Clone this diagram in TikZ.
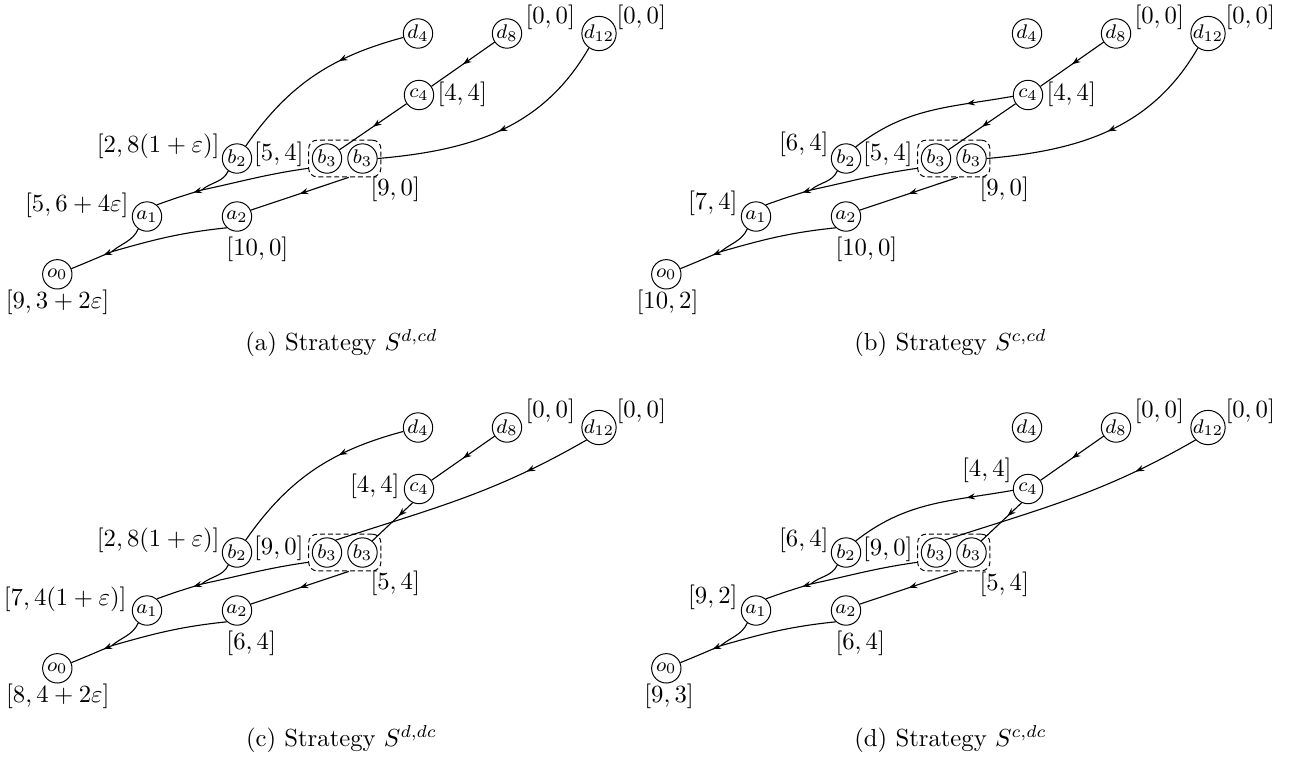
\documentclass[tikz,border=0pt]{standalone}
\usetikzlibrary{arrows.meta,decorations.markings,fit,calc}
\tikzset{
  gn/.style={draw, circle, minimum size=11.9pt, inner sep=0pt, font=\footnotesize},
  infoset/.style={draw, dash pattern=on 2pt off 1.2pt, rounded corners=3.5pt, inner sep=1.3pt},
  edge/.style={line width=0.45pt},
  midarr/.style={postaction={decorate,decoration={markings,mark=at position #1 with {\arrow{Stealth[length=3.4pt,width=2.5pt]}}}}},
  lab/.style={inner sep=0pt},
  captext/.style={anchor=base},
}
\newcommand\gtnodes[1]{%
 \node[gn] (#1o0) at (57.3,-274.3) {$o_0$};
 \node[gn] (#1a1) at (147,-216.5) {$a_1$};
 \node[gn] (#1a2) at (237,-216.5) {$a_2$};
 \node[gn] (#1b2) at (237,-158.5) {$b_2$};
 \node[gn] (#1b3l) at (327,-158.5) {$b_3$};
 \node[gn] (#1b3r) at (362.5,-158.5) {$b_3$};
 \node[gn] (#1c4) at (419,-95) {$c_4$};
 \node[gn] (#1d4) at (418,-33.5) {$d_4$};
 \node[gn] (#1d8) at (507,-33.5) {$d_8$};
 \node[gn] (#1d12) at (599,-33.5) {$d_{12}$};
 \node[infoset, fit=(#1b3l)(#1b3r)] (#1B3) {};
 \coordinate (#1J1) at (201.7,-190);
 \coordinate (#1J2) at (111.7,-251.7);
 \draw[edge] (#1b2.235) to[out=245,in=40] (#1J1);
 \draw[edge] (#1B3.195) to[out=188,in=12] (#1J1);
 \draw[edge,midarr=3.5pt] (#1J1) to[out=197,in=20] (#1a1.50);
 \draw[edge,midarr=0.5] (#1B3.282) -- (#1a2.25);
 \draw[edge] (#1a1.235) to[out=245,in=40] (#1J2);
 \draw[edge] (#1a2.228) to[out=186,in=16] (#1J2);
 \draw[edge,midarr=3.5pt] (#1J2) to[out=203,in=22] (#1o0.22);
 \draw[edge,midarr=0.5] (#1d8) -- (#1c4);
 \node[lab,anchor=west] (#1Ld8) at (525,-17.6) {$[0,0]$};
 \node[lab,anchor=west] (#1Ld12) at (616,-17.6) {$[0,0]$};
}
\begin{document}
\begin{tikzpicture}[x=0.405pt,y=0.405pt]
\useasboundingbox (0,0) rectangle (1289,-762);
% ---------- (a)
\begin{scope}
 \gtnodes{a}
 \draw[edge,midarr=0.35] (ad4.195) to[out=195,in=55] (ab2.55);
 \draw[edge,midarr=0.5] (ac4.215) -- (ab3l.35);
 \draw[edge,midarr=0.5] (ad12.235) to[out=240,in=5] (ab3r.east);
 \node[lab] (aLo0) at (57.5,-302.5) {$[9,3+2\varepsilon]$};
 \node[lab,anchor=east] (aLa1) at (129,-205.5) {$[5,6+4\varepsilon]$};
 \node[lab,anchor=west] (aLa2) at (226,-249) {$[10,0]$};
 \node[lab,anchor=east] (aLb2) at (220,-146.5) {$[2,8(1+\varepsilon)]$};
 \node[lab,anchor=east] (aLb3l) at (304,-154.8) {$[5,4]$};
 \node[lab,anchor=west] (aLb3r) at (370,-189.3) {$[9,0]$};
 \node[lab,anchor=west] (aLc4) at (437,-94.5) {$[4,4]$};
\end{scope}
% ---------- (b)
\begin{scope}[shift={(609,0)}]
 \gtnodes{b}
 \draw[edge,midarr=0.28] (bc4.185) to[out=190,in=38] (bb2.50);
 \draw[edge,midarr=0.5] (bc4.215) -- (bb3l.35);
 \draw[edge,midarr=0.5] (bd12.235) to[out=240,in=5] (bb3r.east);
 \node[lab] (bLo0) at (58.5,-302.5) {$[10,2]$};
 \node[lab,anchor=east] (bLa1) at (129,-203) {$[7,4]$};
 \node[lab,anchor=west] (bLa2) at (226,-249) {$[10,0]$};
 \node[lab,anchor=east] (bLb2) at (220,-144) {$[6,4]$};
 \node[lab,anchor=east] (bLb3l) at (304,-154.8) {$[5,4]$};
 \node[lab,anchor=west] (bLb3r) at (370,-189.3) {$[9,0]$};
 \node[lab,anchor=west] (bLc4) at (437,-94.5) {$[4,4]$};
\end{scope}
% ---------- (c)
\begin{scope}[shift={(0,-394)}]
 \gtnodes{c}
 \draw[edge,midarr=0.35] (cd4.195) to[out=195,in=55] (cb2.55);
 \draw[edge,midarr=0.35] (cc4.245) -- (cb3r.50);
 \draw[edge,midarr=0.25] (cd12.225) to[out=210,in=18] (cb3l.55);
 \node[lab] (cLo0) at (57.8,-302.5) {$[8,4+2\varepsilon]$};
 \node[lab,anchor=east] (cLa1) at (127,-205.5) {$[7,4(1+\varepsilon)]$};
 \node[lab,anchor=west] (cLa2) at (226,-249) {$[6,4]$};
 \node[lab,anchor=east] (cLb2) at (220,-146.5) {$[2,8(1+\varepsilon)]$};
 \node[lab,anchor=east] (cLb3l) at (304,-154.8) {$[9,0]$};
 \node[lab,anchor=west] (cLb3r) at (370,-189.3) {$[5,4]$};
 \node[lab,anchor=east] (cLc4) at (400,-92.2) {$[4,4]$};
\end{scope}
% ---------- (d)
\begin{scope}[shift={(609,-394)}]
 \gtnodes{d}
 \draw[edge,midarr=0.28] (dc4.185) to[out=190,in=38] (db2.50);
 \draw[edge,midarr=0.35] (dc4.245) -- (db3r.50);
 \draw[edge,midarr=0.25] (dd12.225) to[out=210,in=18] (db3l.55);
 \node[lab] (dLo0) at (60,-302.5) {$[9,3]$};
 \node[lab,anchor=east] (dLa1) at (129,-203.5) {$[9,2]$};
 \node[lab,anchor=west] (dLa2) at (226,-249) {$[6,4]$};
 \node[lab,anchor=east] (dLb2) at (220,-146) {$[6,4]$};
 \node[lab,anchor=east] (dLb3l) at (304,-155) {$[9,0]$};
 \node[lab,anchor=west] (dLb3r) at (370,-190) {$[5,4]$};
 \node[lab,anchor=east] (dLc4) at (403,-76.5) {$[4,4]$};
\end{scope}
% ---------- captions
\node[captext] (capa) at (341.5,-350) {(a) Strategy $S^{d,cd}$};
\node[captext] (capb) at (950.5,-350) {(b) Strategy $S^{c,cd}$};
\node[captext] (capc) at (341.5,-746) {(c) Strategy $S^{d,dc}$};
\node[captext] (capd) at (950.5,-746) {(d) Strategy $S^{c,dc}$};
\end{tikzpicture}
\end{document}
